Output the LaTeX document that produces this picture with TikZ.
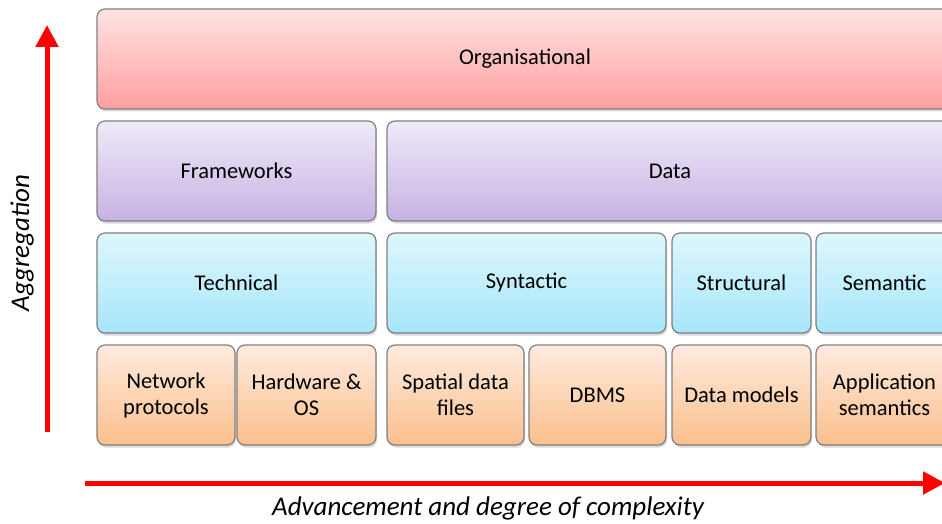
\documentclass[tikz,border=0pt]{standalone}
\usepackage{fontspec}
\setmainfont{Carlito}
\usetikzlibrary{positioning}
\usetikzlibrary{shadows}
\usetikzlibrary{arrows.meta}

\definecolor{boxgray}{HTML}{7F7F7F}
\definecolor{orgtop}{HTML}{FFE3E3}
\definecolor{orgbot}{HTML}{FF9F9F}
\definecolor{fwtop}{HTML}{EFEAF8}
\definecolor{fwbot}{HTML}{C6B2E3}
\definecolor{tectop}{HTML}{DFF7FD}
\definecolor{tecbot}{HTML}{A6E6FA}
\definecolor{nettop}{HTML}{FEEBDF}
\definecolor{netbot}{HTML}{FBBF8C}
\definecolor{axisred}{HTML}{FF0000}

\tikzset{
    layer/.style={draw=boxgray, line width=1.2pt, rounded corners=8pt,
        minimum height=100pt, inner sep=0pt, outer sep=0pt, align=center,
        font=\fontsize{22.5}{26}\selectfont,
        drop shadow={opacity=0.3, shadow xshift=1pt, shadow yshift=-2.5pt}},
    orglayer/.style={layer, top color=orgtop, bottom color=orgbot},
    fwlayer/.style={layer, top color=fwtop, bottom color=fwbot},
    teclayer/.style={layer, top color=tectop, bottom color=tecbot},
    netlayer/.style={layer, top color=nettop, bottom color=netbot},
    axis/.style={draw=axisred, line width=5pt, -{Triangle[width=22pt,length=22pt]}},
    axislabel/.style={font=\itshape\fontsize{27}{30}\selectfont}
}

\begin{document}
\begin{tikzpicture}[x=1pt, y=-1pt]
            \useasboundingbox (0,0) rectangle (942,524);
            \clip (0,0) rectangle (942,524);

            % layers, top to bottom
            \node[orglayer, anchor=north west, minimum width=856pt] (org) at (97,9) {Organisational};

            \node[fwlayer, below=12pt of org.south west, anchor=north west, minimum width=279pt] (frame) {Frameworks};
            \node[fwlayer, right=11pt of frame, minimum width=566pt] (data) {Data};

            \node[teclayer, below=12pt of frame.south west, anchor=north west, minimum width=279pt] (tech) {Technical};
            \node[teclayer, right=11pt of tech, minimum width=279pt] (synt) {Syntactic};
            \node[teclayer, right=6pt of synt, minimum width=139pt] (struct) {Structural};
            \node[teclayer, right=5pt of struct, minimum width=137pt] (sem) {Semantic};

            \node[netlayer, below=12pt of tech.south west, anchor=north west, minimum width=138pt] (netp) {Network\\protocols};
            \node[netlayer, right=2pt of netp, minimum width=139pt] (hwos) {Hardware \&\\OS};
            \node[netlayer, right=11pt of hwos, minimum width=137pt] (spat) {Spatial data\\files};
            \node[netlayer, right=5pt of spat, minimum width=137pt] (dbms) {DBMS};
            \node[netlayer, right=6pt of dbms, minimum width=139pt] (dmod) {Data models};
            \node[netlayer, right=5pt of dmod, minimum width=137pt] (appsem) {Application\\semantics};

            % axes
            \coordinate (aggbot) at (47,432);
            \coordinate (aggtop) at (47,25);
            \coordinate (advleft) at (85,483);
            \coordinate (advright) at (945,483);
            \draw[axis] (aggbot) -- (aggtop);
            \draw[axis] (advleft) -- (advright);

            \node[axislabel, rotate=90] (agglabel) at (22,243) {Aggregation};
            \node[axislabel] (advlabel) at (488,508) {Advancement and degree of complexity};
        \end{tikzpicture}
\end{document}
